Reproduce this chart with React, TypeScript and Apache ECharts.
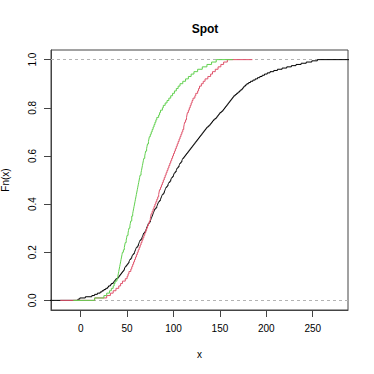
import React, { useEffect, useRef } from "react";
import * as echarts from "echarts";

const xTicks = [0, 50, 100, 150, 200, 250];
const yTicks = [0, 0.2, 0.4, 0.6, 0.8, 1.0];

// sample values, one ECDF each
const blackValues = [
  -3, -1, 5, 12, 15, 18, 21, 23, 25, 27,
  29, 30, 32, 33, 35, 36, 37, 38, 40, 41,
  42, 43, 44, 45, 46, 47, 47.5, 48, 49, 50,
  51, 52, 52.5, 53, 54, 55, 55.5, 56, 57, 58,
  58.5, 59, 59.5, 60, 61, 62, 62.5, 63, 63.5, 64,
  65, 66, 66.5, 67, 67.5, 68, 69, 70, 70.5, 71,
  71.5, 72, 72.5, 73, 74, 75, 75.5, 76, 76.5, 77,
  77.5, 78, 78.5, 79, 79.5, 80, 81, 82, 82.5, 83,
  83.5, 84, 85, 86, 86.5, 87, 87.5, 88, 89, 90,
  90.5, 91, 91.5, 92, 93, 94, 94.5, 95, 96, 97,
  97.5, 98, 99, 100, 100.5, 101, 102, 103, 103.5, 104,
  105, 106, 106.5, 107, 108, 109, 109.5, 110, 111, 112,
  113, 114, 115, 116, 117, 118, 119, 120, 121, 122,
  123, 124, 125, 126, 127, 128, 129, 130, 131, 132,
  133, 134, 135, 136, 137.5, 139, 140, 141, 142, 143,
  144.5, 146, 147, 148, 149, 150, 151.5, 153, 154, 155,
  156, 157, 158, 159, 160, 161, 162, 163, 164, 165,
  166.5, 168, 169.5, 171, 172.5, 174, 175, 176, 177.5, 179,
  181, 183, 185.5, 188, 190.5, 193, 195.5, 198, 201, 204,
  208, 212, 217, 222, 227, 232, 237.5, 243, 249, 255,
];
const redValues = [
  15, 28, 32, 35, 38, 41, 43, 45, 48, 50, 51, 52, 54, 55, 56, 57, 58, 59, 60, 61,
  62, 63, 64, 65, 66, 67, 68, 69, 70, 71, 72, 73, 74, 75, 75.5, 76, 77, 78, 79, 80,
  81, 82, 83, 84, 84.5, 85, 86, 87, 88, 89, 90, 91, 92, 93, 94, 95, 96, 97, 98, 99,
  100, 101, 102, 103, 104, 105, 106, 107, 108, 109, 110, 111, 111.5, 112, 113, 114, 114.5, 115, 116, 117,
  118, 119, 120, 121, 123, 124, 126, 127, 128, 130, 132, 134, 137, 140, 142, 145, 148, 151, 154, 158,
];
const greenValues = [
  15, 25, 28, 31, 33, 35, 36, 37, 39, 40, 40.5, 41, 41.5, 42, 42.5, 43, 43.5, 44, 44.5, 45,
  46, 47, 47.5, 48, 49, 49.5, 50, 51, 51.5, 52, 53, 53.5, 54, 55, 55, 56, 56.5, 57, 57.5, 58,
  58.5, 59, 59.5, 60, 60.5, 61, 61.5, 62, 62.5, 63, 63.5, 64, 65, 65.5, 66, 66.5, 67, 67.5, 68, 69,
  69.5, 70, 71, 71.5, 72, 73, 73.5, 74, 75, 76, 77, 78, 79, 80, 81, 82, 84, 85, 86, 88,
  89, 91, 93, 95, 97, 99, 101, 103, 105, 107, 110, 113, 116, 119, 122, 126, 131, 136, 141, 146,
];

// horizontal extensions of each step function
const blackRange = [-42, 296];
const redRange = [-22, 185];
const greenRange = [-8, 164];

function ecdfPoints(values: number[], range: number[]) {
  const s = [...values].sort((a, b) => a - b);
  const n = s.length;
  const pts: number[][] = [[range[0], 0]];
  for (let i = 0; i < n; i++) {
    if (i < n - 1 && s[i + 1] === s[i]) continue;
    pts.push([s[i], (i + 1) / n]);
  }
  pts.push([range[1], 1]);
  return pts;
}

const FONT = "Liberation Sans, Arial, Helvetica, sans-serif";

export default function App() {
  const ref = useRef<HTMLDivElement>(null);
  useEffect(() => {
    if (!ref.current) return;
    const chart = echarts.init(ref.current, undefined, { renderer: "svg" });
    const lineSeries = (name: string, color: string, values: number[], range: number[]) => ({
      name,
      type: "line",
      step: "end",
      showSymbol: false,
      symbol: "none",
      clip: true,
      data: ecdfPoints(values, range),
      lineStyle: { color, width: 1 },
      itemStyle: { color },
      z: 3,
    });
    chart.setOption({
      animation: false,
      backgroundColor: "#ffffff",
      title: {
        text: "Spot",
        left: 200,
        top: 18,
        textAlign: "center",
        textStyle: { fontFamily: FONT, fontSize: 12, fontWeight: "bold", color: "#000" },
      },
      grid: {
        left: 51,
        right: 26,
        top: 50,
        bottom: 64,
        containLabel: false,
        outerBoundsMode: "none",
        show: true,
        borderColor: "#444",
        borderWidth: 1,
        backgroundColor: "transparent",
      },
      xAxis: {
        type: "value",
        min: -32,
        max: 288,
        name: "x",
        nameLocation: "middle",
        nameGap: 39,
        nameTextStyle: { fontFamily: FONT, fontSize: 10, color: "#000" },
        splitLine: { show: false },
        axisLine: { show: true, onZero: false, lineStyle: { color: "#444", width: 1 } },
        axisTick: {
          show: true,
          length: 7,
          customValues: xTicks,
          lineStyle: { color: "#444", width: 1 },
        },
        axisLabel: {
          customValues: xTicks,
          margin: 13,
          fontFamily: FONT,
          fontSize: 10,
          color: "#000",
        },
      },
      yAxis: {
        type: "value",
        min: -0.04,
        max: 1.04,
        name: "Fn(x)",
        nameLocation: "middle",
        nameRotate: 90,
        nameGap: 41,
        nameTextStyle: { fontFamily: FONT, fontSize: 10, color: "#000" },
        splitLine: { show: false },
        axisLine: { show: true, onZero: false, lineStyle: { color: "#444", width: 1 } },
        axisTick: {
          show: true,
          length: 7,
          customValues: yTicks,
          lineStyle: { color: "#444", width: 1 },
        },
        axisLabel: {
          customValues: yTicks,
          rotate: 90,
          margin: 14,
          fontFamily: FONT,
          fontSize: 10,
          color: "#000",
          formatter: (v: number) => v.toFixed(1),
        },
      },
      series: [
        {
          ...lineSeries("black", "#000000", blackValues, blackRange),
          markLine: {
            silent: true,
            symbol: ["none", "none"],
            label: { show: false },
            lineStyle: { color: "#B3B3B3", type: [3, 3], width: 1 },
            data: [{ yAxis: 0 }, { yAxis: 1 }],
            z: 1,
          },
        },
        lineSeries("red", "#DF536B", redValues, redRange),
        lineSeries("green", "#61D04F", greenValues, greenRange),
      ],
    });
    return () => chart.dispose();
  }, []);
  return <div ref={ref} style={{ width: 374, height: 374, position: "absolute", left: 0, top: 0 }} />;
}
